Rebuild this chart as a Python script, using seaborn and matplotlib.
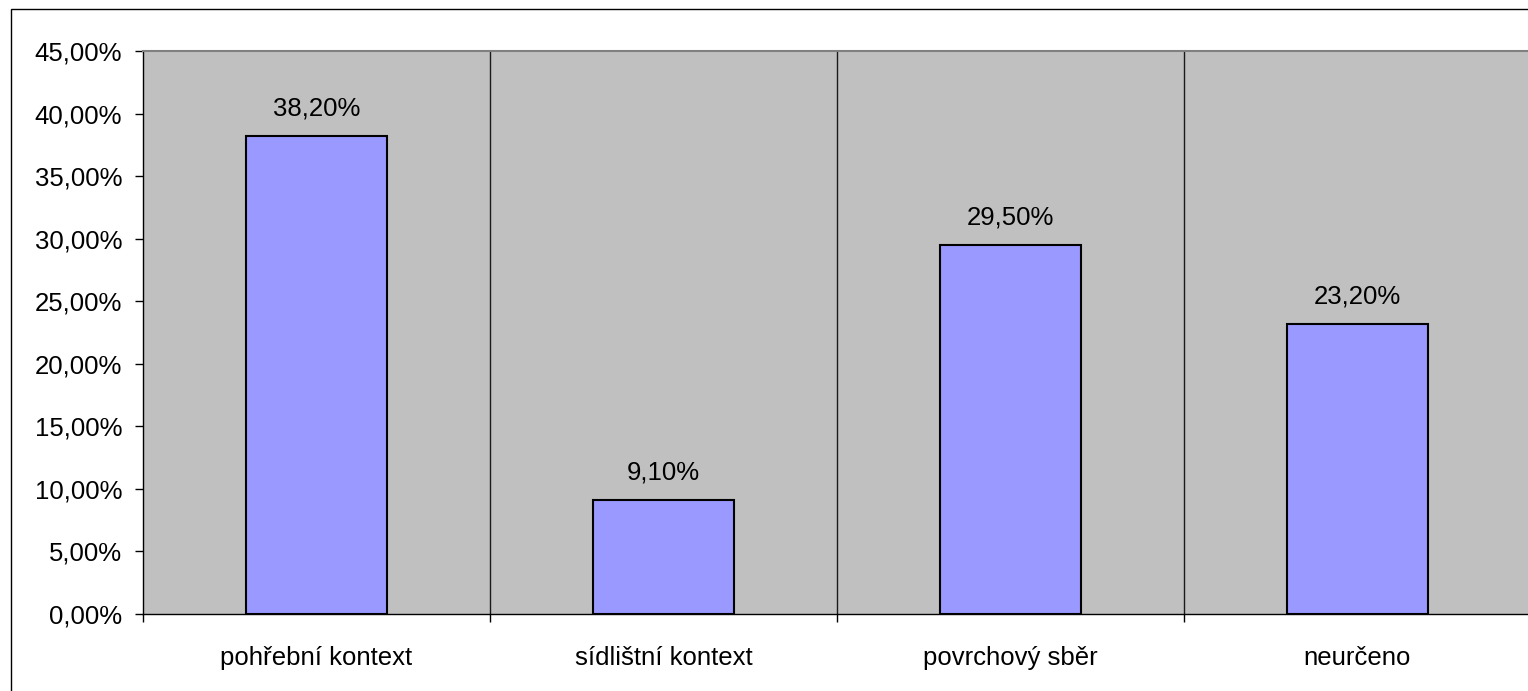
import matplotlib
matplotlib.use("Agg")
import matplotlib.pyplot as plt
from matplotlib.patches import Rectangle
from matplotlib.ticker import FixedLocator, FuncFormatter
import seaborn as sns
import pandas as pd

categories = ["pohřební kontext", "sídlištní kontext", "povrchový sběr", "neurčeno"]
shares = [38.2, 9.1, 29.5, 23.2]
y_ticks = [0, 5, 10, 15, 20, 25, 30, 35, 40, 45]

sns.set_style("white")
plt.rcParams["font.family"] = ["Liberation Sans", "DejaVu Sans"]
plt.rcParams["text.color"] = "black"

W, H = 1528, 691
fig = plt.figure(figsize=(W / 100, H / 100), dpi=100)
fig.patch.set_facecolor("white")

# outer chart frame
fig.add_artist(Rectangle((10.5 / W, -0.1), 2.0, 1 - 8.5 / H + 0.1,
                         transform=fig.transFigure, fill=False,
                         edgecolor="black", linewidth=1.0))

left, right, top, bottom = 143 / W, 1531 / W, 1 - 51 / H, 1 - 614 / H
ax = fig.add_axes([left, bottom, right - left, top - bottom])
ax.set_facecolor("#C0C0C0")

df = pd.DataFrame({"kategorie": categories, "podil": shares})
sns.barplot(data=df, x="kategorie", y="podil", ax=ax, color="#9999FF",
            saturation=1, width=0.406, edgecolor="black", linewidth=1.5)

ax.set_xlim(-0.5, len(categories) - 0.5)
ax.set_ylim(0, 45)

# category separators
for b in range(1, len(categories)):
    ax.axvline(b - 0.5, color="#1a1a1a", linewidth=1.0, zorder=0.5)

fs = 18.5
for i, v in enumerate(shares):
    ax.annotate(f"{v:.2f}%".replace(".", ","), (i, v), xytext=(0, 11),
                textcoords="offset points", ha="center", va="bottom",
                fontsize=fs, color="black")

ax.yaxis.set_major_locator(FixedLocator(y_ticks))
ax.yaxis.set_major_formatter(FuncFormatter(lambda v, p: f"{v:.2f}%".replace(".", ",")))
ax.tick_params(axis="y", direction="out", length=6, width=1, pad=9,
               labelsize=fs, colors="black", labelcolor="black", left=True)

ax.set_xticks(range(len(categories)))
ax.set_xticklabels(categories)
ax.set_xticks([b - 0.5 for b in range(len(categories) + 1)], minor=True)
ax.tick_params(axis="x", which="major", length=0, pad=23, labelsize=fs,
               labelcolor="black")
ax.tick_params(axis="x", which="minor", direction="out", length=6, width=1,
               bottom=True, color="black")

ax.set_xlabel("")
ax.set_ylabel("")
ax.spines["left"].set_color("black")
ax.spines["bottom"].set_color("black")
ax.spines["top"].set_color("#808080")
ax.spines["top"].set_linewidth(1.5)
ax.spines["right"].set_visible(False)
for s in ("left", "bottom"):
    ax.spines[s].set_linewidth(1.0)

fig.savefig("out.png", dpi=100)
